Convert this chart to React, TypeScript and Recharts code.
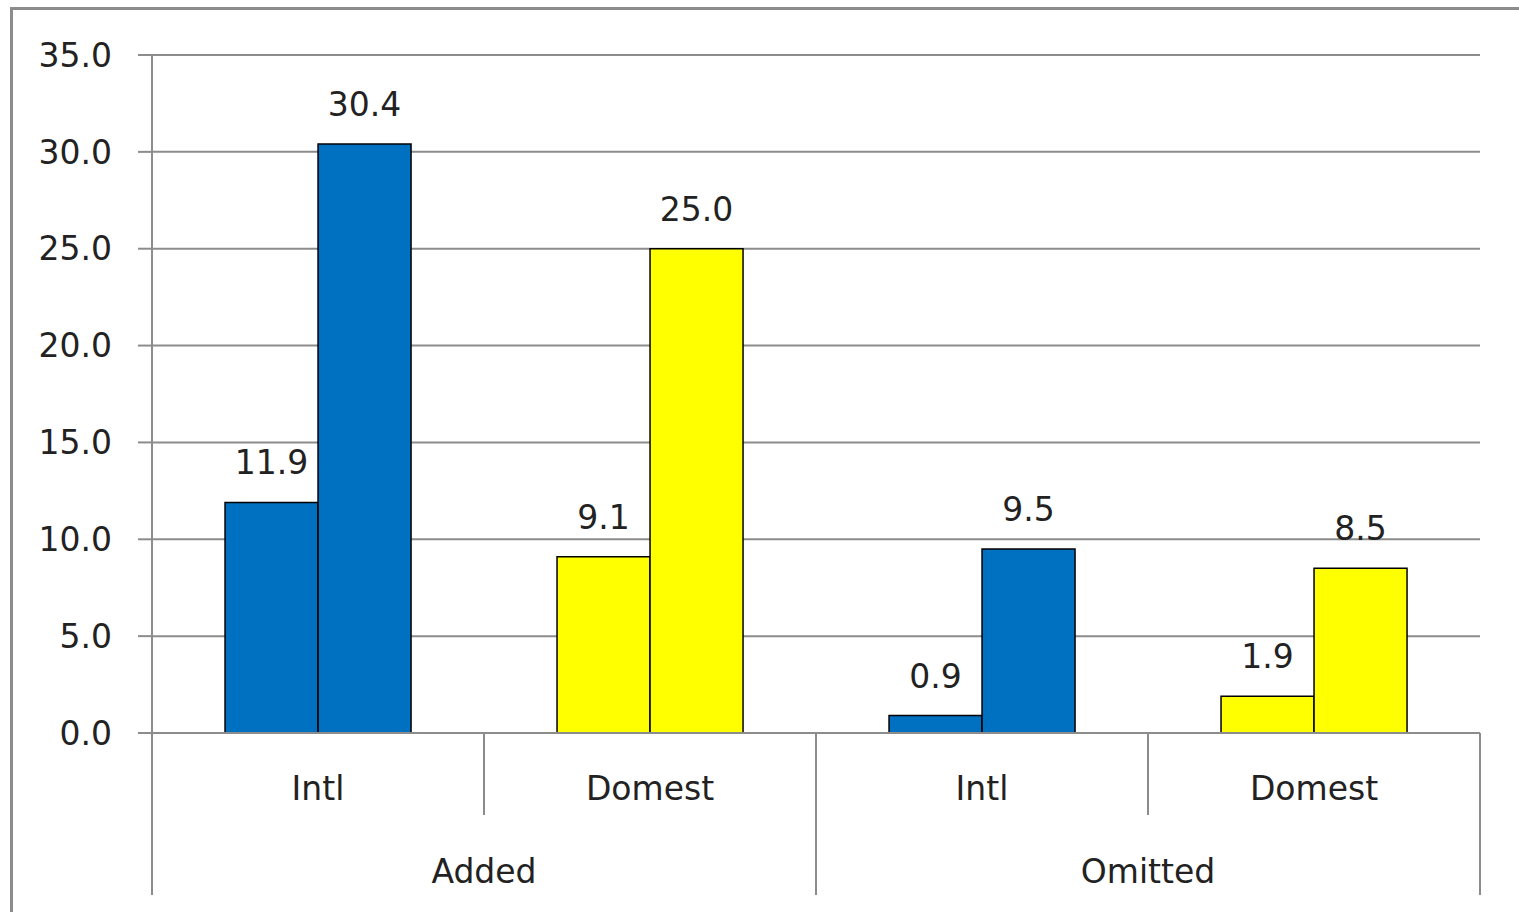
import { BarChart, Bar, XAxis, YAxis, CartesianGrid, Cell, LabelList } from "recharts";

const categories = ["Intl", "Domest", "Intl", "Domest"];
const groups = ["Added", "Added", "Omitted", "Omitted"];
const firstValues = [11.9, 9.1, 0.9, 1.9];
const secondValues = [30.4, 25.0, 9.5, 8.5];
const yTicks = [0, 5, 10, 15, 20, 25, 30, 35];

const W = 1519;
const H = 912;
const MARGIN = { top: 55, right: 39, bottom: 17, left: 0 };
const Y_WIDTH = 152;
const BAND = (W - Y_WIDTH - MARGIN.right) / categories.length;

const FONT = "'DejaVu Sans', sans-serif";
const GRID = "#8c8c8c";
const colorFor = (c: string) => (c === "Intl" ? "#0070C0" : "#FFFF00");

const data = categories.map((c, i) => ({
  idx: i,
  a: firstValues[i],
  b: secondValues[i],
}));

function CategoryTick(props: any) {
  const { x, y, payload } = props;
  const i = payload.value as number;
  const left = x - BAND / 2;
  const right = x + BAND / 2;
  const groupEnd = i === categories.length - 1 || groups[i + 1] !== groups[i];
  return (
    <g>
      {i === 0 && <line x1={left} x2={left} y1={y} y2={y + 162} stroke={GRID} strokeWidth={2} />}
      <line x1={right} x2={right} y1={y} y2={y + (groupEnd ? 162 : 82)} stroke={GRID} strokeWidth={2} />
      <text x={x} y={y + 67} textAnchor="middle" fontSize={33} fontFamily={FONT} fill="#222">
        {categories[i]}
      </text>
      {groupEnd && (
        <text x={x - BAND / 2} y={y + 150} textAnchor="middle" fontSize={33} fontFamily={FONT} fill="#222">
          {groups[i]}
        </text>
      )}
    </g>
  );
}

export default function App() {
  return (
    <div style={{ position: "absolute", left: 0, top: 0, width: W, height: H, background: "#fff", overflow: "hidden" }}>
      <div
        style={{
          position: "absolute",
          left: 10,
          top: 7,
          width: W,
          height: H,
          borderTop: "3px solid #8c8c8c",
          borderLeft: "3px solid #8c8c8c",
        }}
      />
      <div style={{ position: "absolute", left: 0, top: 0 }}>
        <BarChart width={W} height={H} data={data} margin={MARGIN} barGap={0} barCategoryGap="22%">
          <CartesianGrid vertical={false} stroke={GRID} strokeWidth={2} />
          <XAxis
            dataKey="idx"
            height={162}
            tickSize={0}
            tickMargin={0}
            axisLine={{ stroke: GRID, strokeWidth: 2 }}
            tick={<CategoryTick />}
            interval={0}
          />
          <YAxis
            width={Y_WIDTH}
            domain={[0, 35]}
            ticks={yTicks}
            tickFormatter={(v: number) => v.toFixed(1)}
            tickSize={14}
            tickMargin={26}
            axisLine={{ stroke: GRID, strokeWidth: 2 }}
            tickLine={{ stroke: GRID, strokeWidth: 2 }}
            tick={{ fontSize: 33, fontFamily: FONT, fill: "#222" }}
          />
          <Bar dataKey="a" stroke="#000" strokeWidth={1.5} isAnimationActive={false}>
            {data.map((d) => (
              <Cell key={d.idx} fill={colorFor(categories[d.idx])} />
            ))}
            <LabelList
              dataKey="a"
              position="top"
              offset={28}
              formatter={(v: any) => Number(v).toFixed(1)}
              style={{ fontSize: 33, fontFamily: FONT, fill: "#222" }}
            />
          </Bar>
          <Bar dataKey="b" stroke="#000" strokeWidth={1.5} isAnimationActive={false}>
            {data.map((d) => (
              <Cell key={d.idx} fill={colorFor(categories[d.idx])} />
            ))}
            <LabelList
              dataKey="b"
              position="top"
              offset={28}
              formatter={(v: any) => Number(v).toFixed(1)}
              style={{ fontSize: 33, fontFamily: FONT, fill: "#222" }}
            />
          </Bar>
        </BarChart>
      </div>
    </div>
  );
}
